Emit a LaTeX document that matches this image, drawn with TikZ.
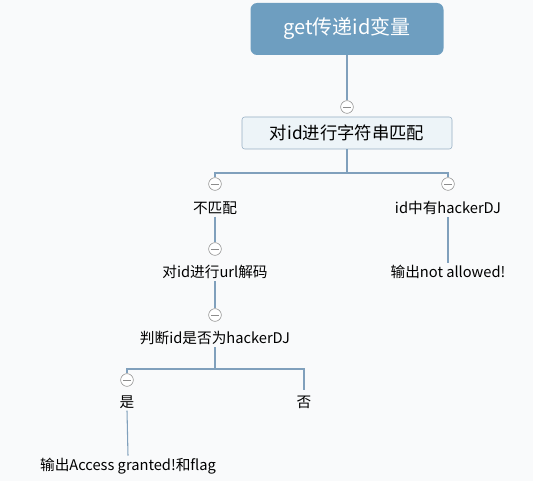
\documentclass[tikz,border=0pt]{standalone}
\usepackage{fontspec}
\setmainfont{Noto Sans CJK SC}
\definecolor{rootblue}{RGB}{110,158,192}
\definecolor{linkblue}{RGB}{128,160,188}
\definecolor{subfill}{RGB}{237,244,248}
\definecolor{subline}{RGB}{150,175,196}
\definecolor{foldgray}{RGB}{140,140,140}
\definecolor{bgpage}{RGB}{249,250,251}
\tikzset{
	rootbox/.style={rounded corners=5pt, fill=rootblue, text=white, minimum width=144.75pt, minimum height=39pt, font=\fontsize{15}{17}\selectfont},
	subbox/.style={draw=subline, fill=subfill, rounded corners=2pt, minimum width=157.5pt, minimum height=24pt, font=\fontsize{13}{15}\selectfont},
	leaf/.style={inner sep=1.5pt, font=\fontsize{11}{13}\selectfont},
	fold/.style={circle, draw=foldgray, fill=white, minimum size=9.5pt, inner sep=0pt,
		path picture={\draw[foldgray] ([xshift=1.6pt]path picture bounding box.west) -- ([xshift=-1.6pt]path picture bounding box.east);}},
	link/.style={draw=linkblue, line width=0.8pt},
}
\begin{document}
\begin{tikzpicture}[x=0.75pt,y=-0.75pt]
		\fill[bgpage] (0,0) rectangle (533,481);
		\useasboundingbox (0,0) rectangle (533,481);
		%root and first test
		\node[rootbox] (get) at (347,29) {get传递id变量};
		\node[subbox] (match) at (347,133) {对id进行字符串匹配};
		\node[fold] (f1) at (347,107) {};
		\draw[link] (get.south) -- (f1.north);
		\coordinate (bar1) at (347,173);
		\node[fold] (f2) at (215,184) {};
		\node[fold] (f3) at (448,184) {};
		\draw[link] (match.south) -- (bar1) -| (f2.north);
		\draw[link] (bar1) -| (f3.north);
		\node[leaf] (nomatch) at (215,208) {不匹配};
		\node[leaf] (hasdj) at (448,208) {id中有hackerDJ};
		%left branch
		\node[fold] (f4) at (215,249) {};
		\node[leaf] (decode) at (215,272) {对id进行url解码};
		\draw[link] (nomatch.south) -- (f4.north);
		\node[fold] (f5) at (215,315) {};
		\node[leaf] (judge) at (215,338) {判断id是否为hackerDJ};
		\draw[link] (decode.south) -- (f5.north);
		\coordinate (bar2) at (215,369);
		\node[fold] (f6) at (127,380) {};
		\node[leaf] (yes) at (127,402) {是};
		\node[leaf, inner sep=4pt] (no) at (304,402) {否};
		\draw[link] (judge.south) -- (bar2) -| (f6.north);
		\draw[link] (bar2) -| (no.north);
		\node[leaf] (access) at (128,466) {输出Access granted!和flag};
		\draw[link] (yes.south) -- (access.north);
		%right branch
		\node[leaf] (notallowed) at (448,272) {输出not allowed!};
		\draw[link] (hasdj.south) -- (notallowed.north);
	\end{tikzpicture}
\end{document}
